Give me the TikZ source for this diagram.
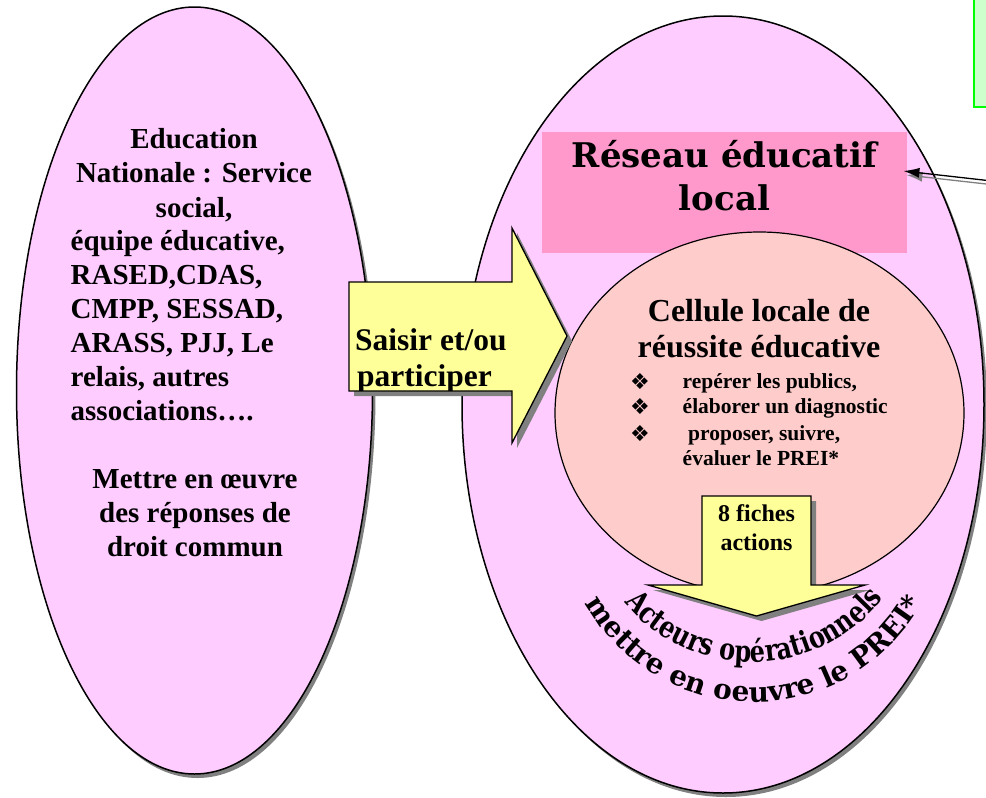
\documentclass[tikz,border=0pt]{standalone}
\usepackage{fontspec}
\setmainfont{Liberation Serif}
\newfontfamily\slabfont{DejaVu Serif}
\newfontfamily\arcinner[FakeStretch=0.8]{DejaVu Serif}
\newfontfamily\symfont{DejaVu Sans}
\usetikzlibrary{shapes.geometric,shadows,decorations.text,arrows.meta}
\definecolor{ovalfill}{HTML}{FFCCFF}
\definecolor{reseaufill}{HTML}{FF99CC}
\definecolor{cellfill}{HTML}{FFCCCC}
\definecolor{arrowfill}{HTML}{FFFF99}
\definecolor{notefill}{HTML}{CCFFCC}
\definecolor{noteline}{HTML}{00FF00}
\definecolor{shadowgray}{HTML}{808080}
\begin{document}
\begin{tikzpicture}[x=1pt,y=-1pt,
  oval/.style={ellipse, draw=black, line width=1.5pt, fill=ovalfill, inner sep=0pt,
    general shadow={fill=shadowgray, shadow xshift=3pt, shadow yshift=-4pt}},
  blockarrow/.style={draw=black, line width=1.3pt, fill=arrowfill, line join=miter,
    general shadow={fill=shadowgray, shadow xshift=5pt, shadow yshift=-5pt}},
  txt/.style={inner sep=0pt, anchor=base, text=black},
  lefttxt/.style={txt, font=\bfseries\fontsize{29}{34}\selectfont},
  celltitle/.style={txt, font=\bfseries\fontsize{32}{37}\selectfont},
  bullettxt/.style={txt, anchor=base west, font=\bfseries\fontsize{21.5}{26}\selectfont},
  bulletsym/.style={txt, font=\symfont\fontsize{22}{24}\selectfont},
  conn/.style={line width=1.3pt, -{Latex[length=16pt,width=10pt]}}
]
\useasboundingbox (0,0) rectangle (986,798);

% big ovals
\node[oval, minimum width=356pt, minimum height=767pt] (edu) at (194.5,390.5) {};
\node[oval, minimum width=522pt, minimum height=777pt] (local) at (723,404.5) {};

% note box (top right)
\node[draw=noteline, line width=2pt, fill=notefill, minimum width=40pt, minimum height=130pt,
  inner sep=0pt, anchor=south west] (note) at (973,108) {};

% left oval text
\node[lefttxt] (e1) at (194,148) {Education};
\node[lefttxt] (e2) at (194,182.5) {Nationale : Service};
\node[lefttxt] (e3) at (194,217) {social,};
\node[lefttxt, anchor=base west] (e4) at (70.5,250.5) {équipe éducative,};
\node[lefttxt, anchor=base west] (e5) at (70.5,284.5) {RASED,CDAS,};
\node[lefttxt, anchor=base west] (e6) at (70.5,318.5) {CMPP, SESSAD,};
\node[lefttxt, anchor=base west] (e7) at (70.5,352.5) {ARASS, PJJ, Le};
\node[lefttxt, anchor=base west] (e8) at (70.5,386.5) {relais, autres};
\node[lefttxt, anchor=base west] (e9) at (70.5,420.5) {associations….};
\node[lefttxt] (m1) at (195,488) {Mettre en œuvre};
\node[lefttxt] (m2) at (195,522) {des réponses de};
\node[lefttxt] (m3) at (195,556) {droit commun};

% Reseau educatif local
\node[fill=reseaufill, minimum width=365pt, minimum height=121pt, inner sep=0pt,
  anchor=north west] (reseau) at (542,132) {};
\node[txt, font=\slabfont\bfseries\fontsize{34}{40}\selectfont] (r1) at (724.5,167) {Réseau éducatif};
\node[txt, font=\slabfont\bfseries\fontsize{34}{40}\selectfont] (r2) at (724.5,210) {local};

% Cellule
\node[ellipse, draw=black, line width=1.2pt, fill=cellfill, minimum width=409pt,
  minimum height=362pt, inner sep=0pt] (cellule) at (759.5,413) {};
\node[celltitle] (c1) at (759,321) {Cellule locale de};
\node[celltitle] (c2) at (759,357.5) {réussite éducative};
\node[bulletsym] (b1) at (640,389) {❖};
\node[bulletsym] (b2) at (640,414) {❖};
\node[bulletsym] (b3) at (640,441) {❖};
\node[bullettxt] (t1) at (682.5,388) {repérer les publics,};
\node[bullettxt] (t2) at (682.5,413) {élaborer un diagnostic};
\node[bullettxt] (t3) at (688,440) {proposer, suivre,};
\node[bullettxt] (t4) at (682.5,465) {évaluer le PREI*};

% right block arrow
\draw[blockarrow] (349,282) -- (512,282) -- (512,228) -- (567,336) -- (512,443)
  -- (512,391) -- (349,391) -- cycle;
\begin{scope}
  \clip (349,282) rectangle (512,390);
  \node[txt, anchor=base west, font=\bfseries\fontsize{31.5}{37}\selectfont] (s1) at (355,350) {Saisir et/ou};
  \node[txt, anchor=base west, font=\bfseries\fontsize{31.5}{37}\selectfont] (s2) at (357,386.5) {participer};
\end{scope}

% down block arrow
\draw[blockarrow] (702,496) -- (811,496) -- (811,585) -- (865,585) -- (756.5,616)
  -- (648,585) -- (702,585) -- cycle;
\node[txt, font=\bfseries\fontsize{24}{28}\selectfont] (f1) at (756.5,521.5) {8 fiches};
\node[txt, font=\bfseries\fontsize{24}{28}\selectfont] (f2) at (756.5,550) {actions};

% curved texts
\path[decorate, decoration={text along path, text align=center,
  text={|\arcinner\bfseries\fontsize{30}{30}\selectfont|Acteurs opérationnels}}]
  (752,495) ++(140:167) arc[start angle=140, end angle=38, radius=167];
\path[decorate, decoration={text along path, text align=center,
  text={|\slabfont\bfseries\fontsize{28}{28}\selectfont|mettre en oeuvre le PREI*}}]
  (754,509) ++(152.5:193) arc[start angle=152.5, end angle=27.5, radius=193];

% connector into Reseau
\coordinate (src) at (992,181);
\draw[conn, draw=shadowgray, fill=shadowgray, transform canvas={xshift=3pt,yshift=-4pt}]
  (src) -- ([shift={(-4,39)}]reseau.north east);
\draw[conn, draw=black, fill=black] (src) -- ([shift={(-4,39)}]reseau.north east);
\end{tikzpicture}
\end{document}
